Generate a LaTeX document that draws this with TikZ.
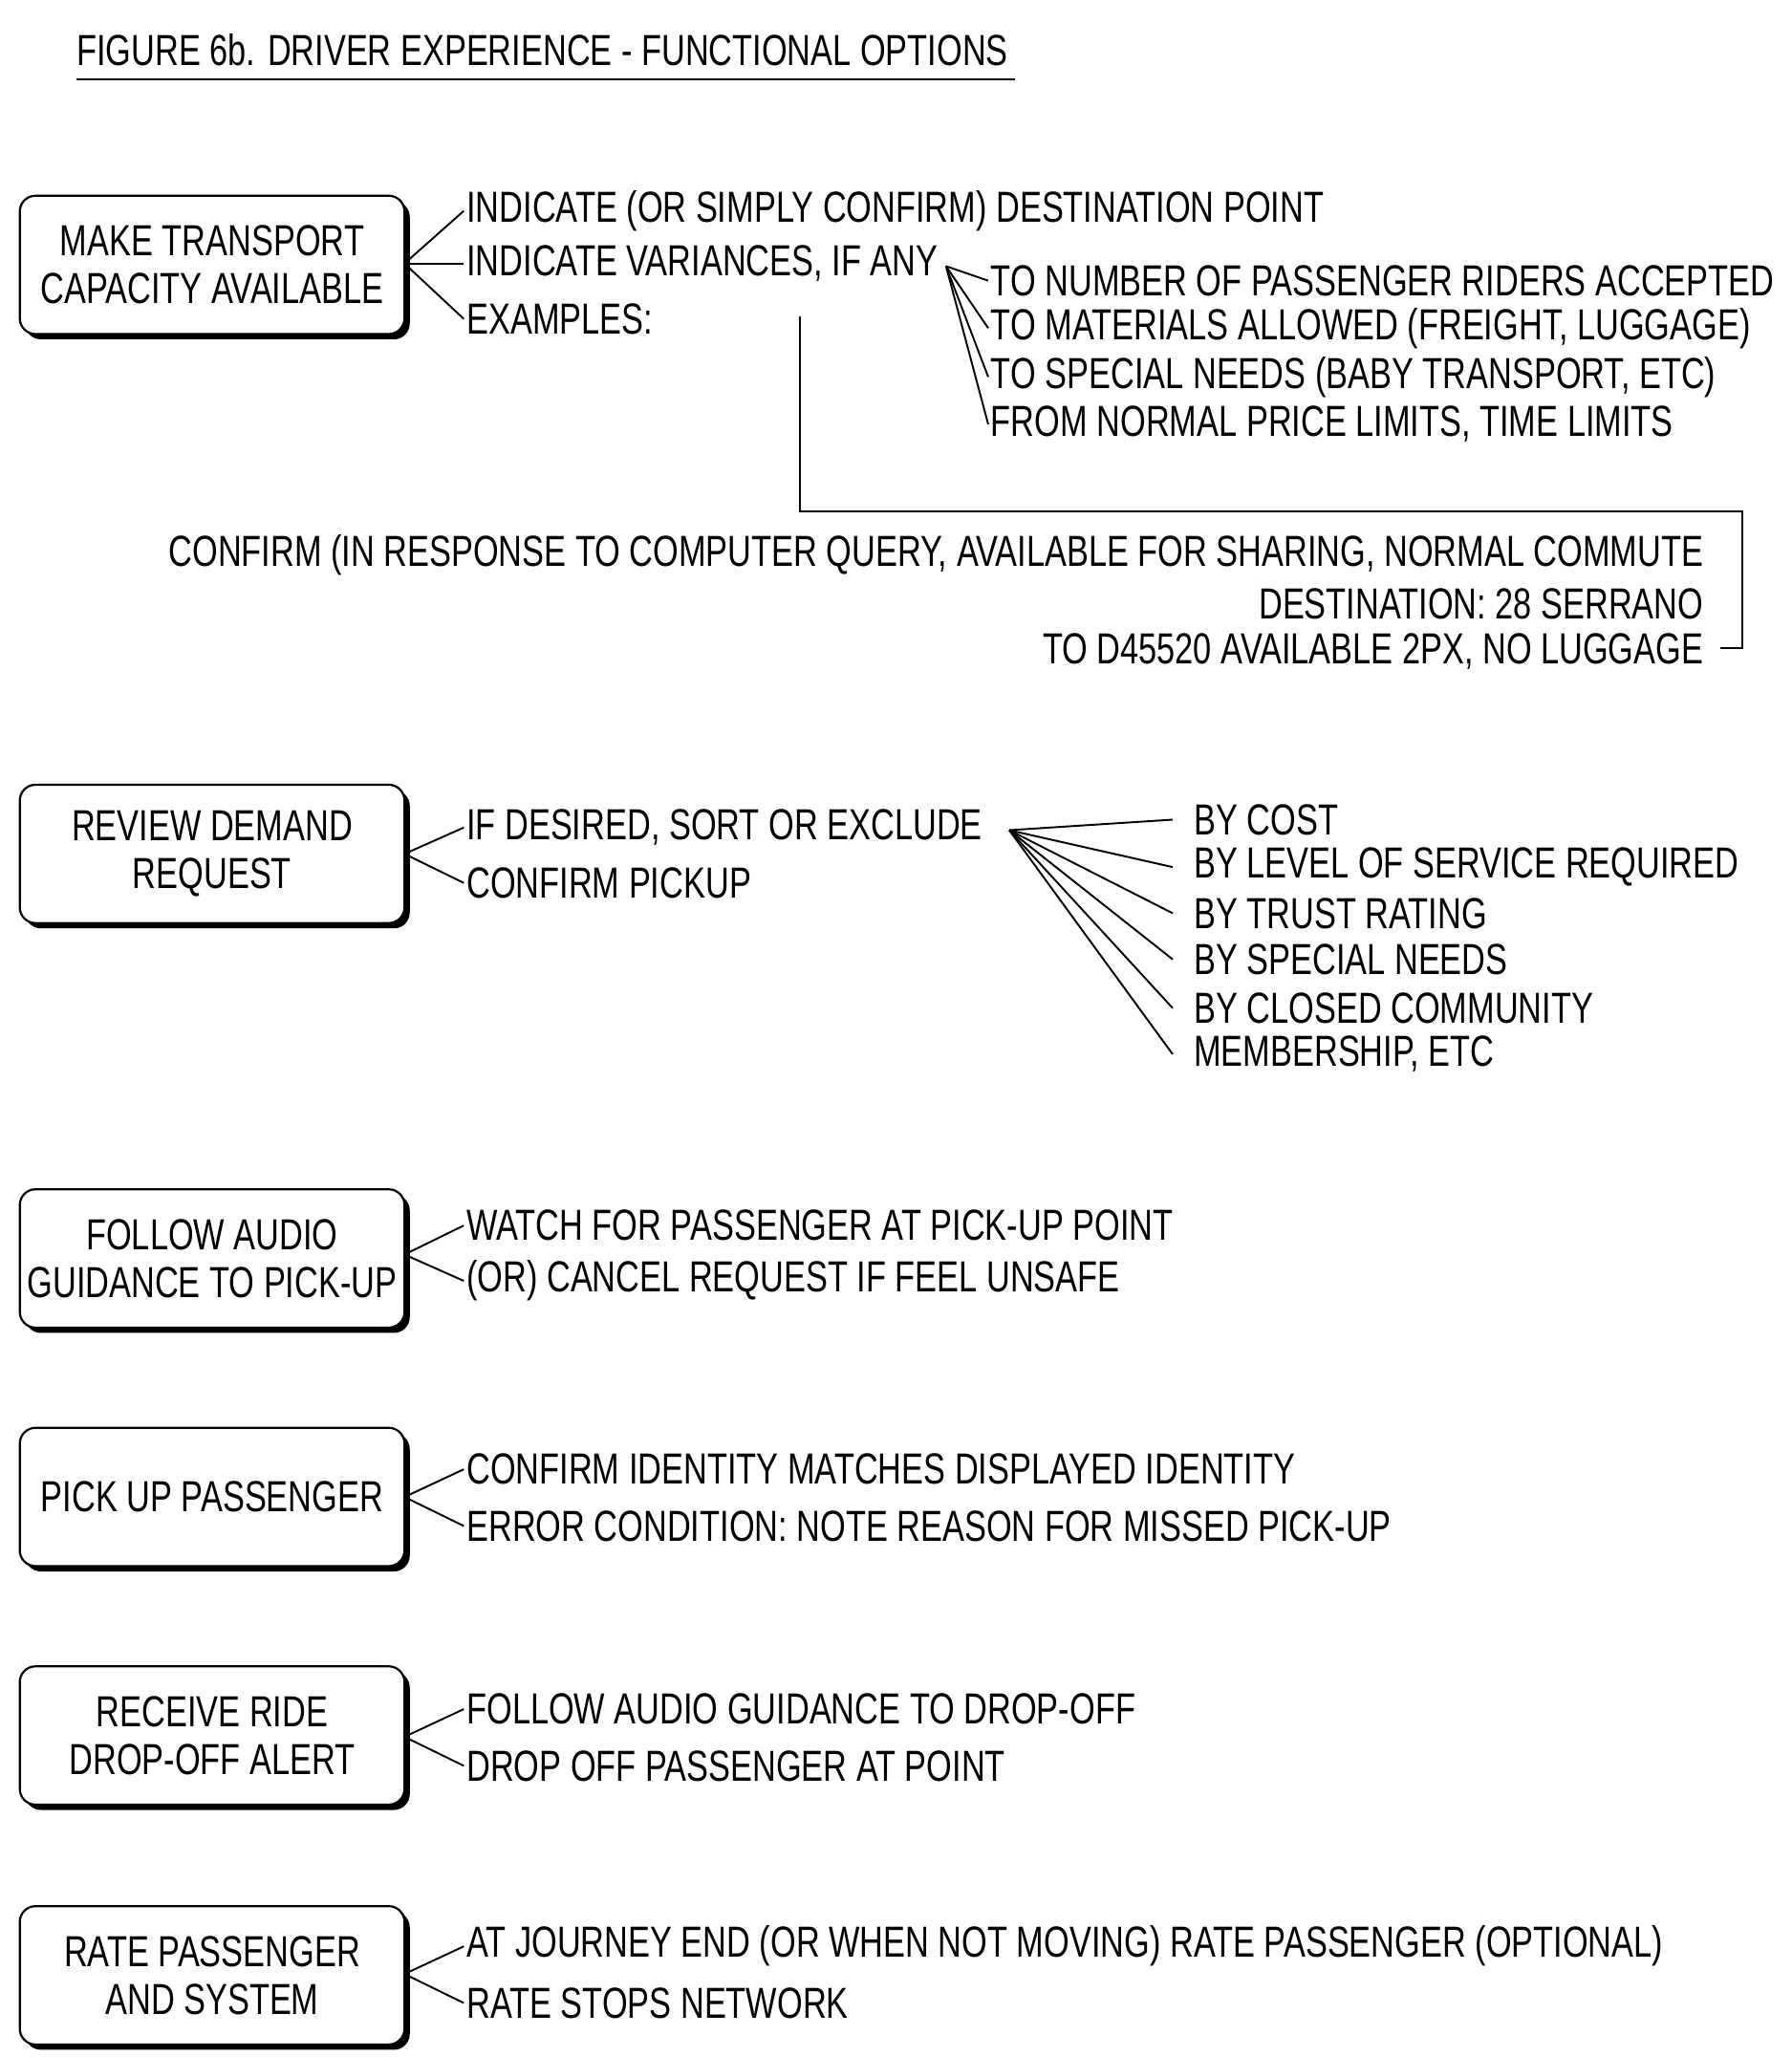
\documentclass[tikz,border=0pt]{standalone}
\usepackage{fontspec}
\setmainfont{Liberation Sans}[FakeStretch=0.755]
\begin{document}
\begin{tikzpicture}[x=1pt,y=-1pt,
  box/.style={draw,line width=1.6pt,rounded corners=12pt,fill=white,minimum width=292pt,minimum height=105pt,align=center,inner sep=0pt,font=\fontsize{33}{36}\selectfont},
  txt/.style={anchor=west,inner sep=2pt,font=\fontsize{33}{36}\selectfont},
  rtxt/.style={anchor=east,inner sep=2pt,font=\fontsize{33}{36}\selectfont},
  ln/.style={line width=1.4pt}]
\useasboundingbox (0,0) rectangle (1360,1561);
\newcommand{\shbox}[4]{%
  \fill[rounded corners=12pt] (#2+4,#3+4) ++(-146,-52.5) rectangle ++(292,105);
  \node[box] (#1) at (#2,#3) {#4};}
\node[anchor=west,inner sep=0pt,font=\fontsize{33}{36}\selectfont] (title) at (58,38) {FIGURE 6b. DRIVER EXPERIENCE - FUNCTIONAL OPTIONS};
\draw[ln] (58,60) -- (770,60);
% box 1
\shbox{b1}{161}{201}{MAKE TRANSPORT\\CAPACITY AVAILABLE}
\coordinate (j1) at (307,200);
\node[txt] (a1) at (352,160) {INDICATE (OR SIMPLY CONFIRM) DESTINATION POINT};
\node[txt] (a2) at (352,200) {INDICATE VARIANCES, IF ANY};
\node[txt] (a3) at (352,242) {EXAMPLES:};
\foreach \t in {a1,a2,a3} \draw[ln] (j1) -- (\t.west);
\coordinate (j2) at (718,202);
\node[txt] (v1) at (750,213) {TO NUMBER OF PASSENGER RIDERS ACCEPTED};
\node[txt] (v2) at (750,249) {TO MATERIALS ALLOWED (FREIGHT, LUGGAGE)};
\node[txt] (v3) at (750,286) {TO SPECIAL NEEDS (BABY TRANSPORT, ETC)};
\node[txt] (v4) at (750,322) {FROM NORMAL PRICE LIMITS, TIME LIMITS};
\foreach \t in {v1,v2,v3,v4} \draw[ln] (j2) -- (\t.west);
\node[rtxt] (c1) at (1295,421) {CONFIRM (IN RESPONSE TO COMPUTER QUERY, AVAILABLE FOR SHARING, NORMAL COMMUTE};
\node[rtxt] (c2) at (1295,458) {DESTINATION: 28 SERRANO};
\node[rtxt] (c3) at (1295,494) {TO D45520 AVAILABLE 2PX, NO LUGGAGE};
\coordinate (e1) at (607,240);
\coordinate (e2) at (1306,492);
\draw[ln] (e1) -- (607,388) -- (1322,388) -- (1322,492) -- (e2);
% box 2
\shbox{b2}{161}{648}{REVIEW DEMAND\\REQUEST}
\coordinate (j3) at (307,648);
\node[txt] (r1) at (352,628) {IF DESIRED, SORT OR EXCLUDE};
\node[txt] (r2) at (352,670) {CONFIRM PICKUP};
\foreach \t in {r1,r2} \draw[ln] (j3) -- (\t.west);
\coordinate (j4) at (766,630);
\node[txt] (s1) at (904,622) {BY COST};
\node[txt] (s2) at (904,658) {BY LEVEL OF SERVICE REQUIRED};
\node[txt] (s3) at (904,693) {BY TRUST RATING};
\node[txt] (s4) at (904,728) {BY SPECIAL NEEDS};
\node[txt] (s5) at (904,765) {BY CLOSED COMMUNITY};
\node[txt] (s6) at (904,800) {MEMBERSHIP, ETC};
\foreach \t in {s1,s2,s3,s4,s5,s6} \draw[ln] (j4) -- ([xshift=-14pt]\t.west);
% box 3
\shbox{b3}{161}{955}{FOLLOW AUDIO\\GUIDANCE TO PICK-UP}
\coordinate (j5) at (307,952);
\node[txt] (f1) at (352,930) {WATCH FOR PASSENGER AT PICK-UP POINT};
\node[txt] (f2) at (352,972) {(OR) CANCEL REQUEST IF FEEL UNSAFE};
\foreach \t in {f1,f2} \draw[ln] (j5) -- (\t.west);
% box 4
\shbox{b4}{161}{1136}{PICK UP PASSENGER}
\coordinate (j6) at (307,1136);
\node[txt] (p1) at (352,1115) {CONFIRM IDENTITY MATCHES DISPLAYED IDENTITY};
\node[txt] (p2) at (352,1158) {ERROR CONDITION: NOTE REASON FOR MISSED PICK-UP};
\foreach \t in {p1,p2} \draw[ln] (j6) -- (\t.west);
% box 5
\shbox{b5}{161}{1317}{RECEIVE RIDE\\DROP-OFF ALERT}
\coordinate (j7) at (307,1318);
\node[txt] (d1) at (352,1297) {FOLLOW AUDIO GUIDANCE TO DROP-OFF};
\node[txt] (d2) at (352,1340) {DROP OFF PASSENGER AT POINT};
\foreach \t in {d1,d2} \draw[ln] (j7) -- (\t.west);
% box 6
\shbox{b6}{161}{1499}{RATE PASSENGER\\AND SYSTEM}
\coordinate (j8) at (307,1498);
\node[txt] (g1) at (352,1477) {AT JOURNEY END (OR WHEN NOT MOVING) RATE PASSENGER (OPTIONAL)};
\node[txt] (g2) at (352,1520) {RATE STOPS NETWORK};
\foreach \t in {g1,g2} \draw[ln] (j8) -- (\t.west);
\end{tikzpicture}
\end{document}
